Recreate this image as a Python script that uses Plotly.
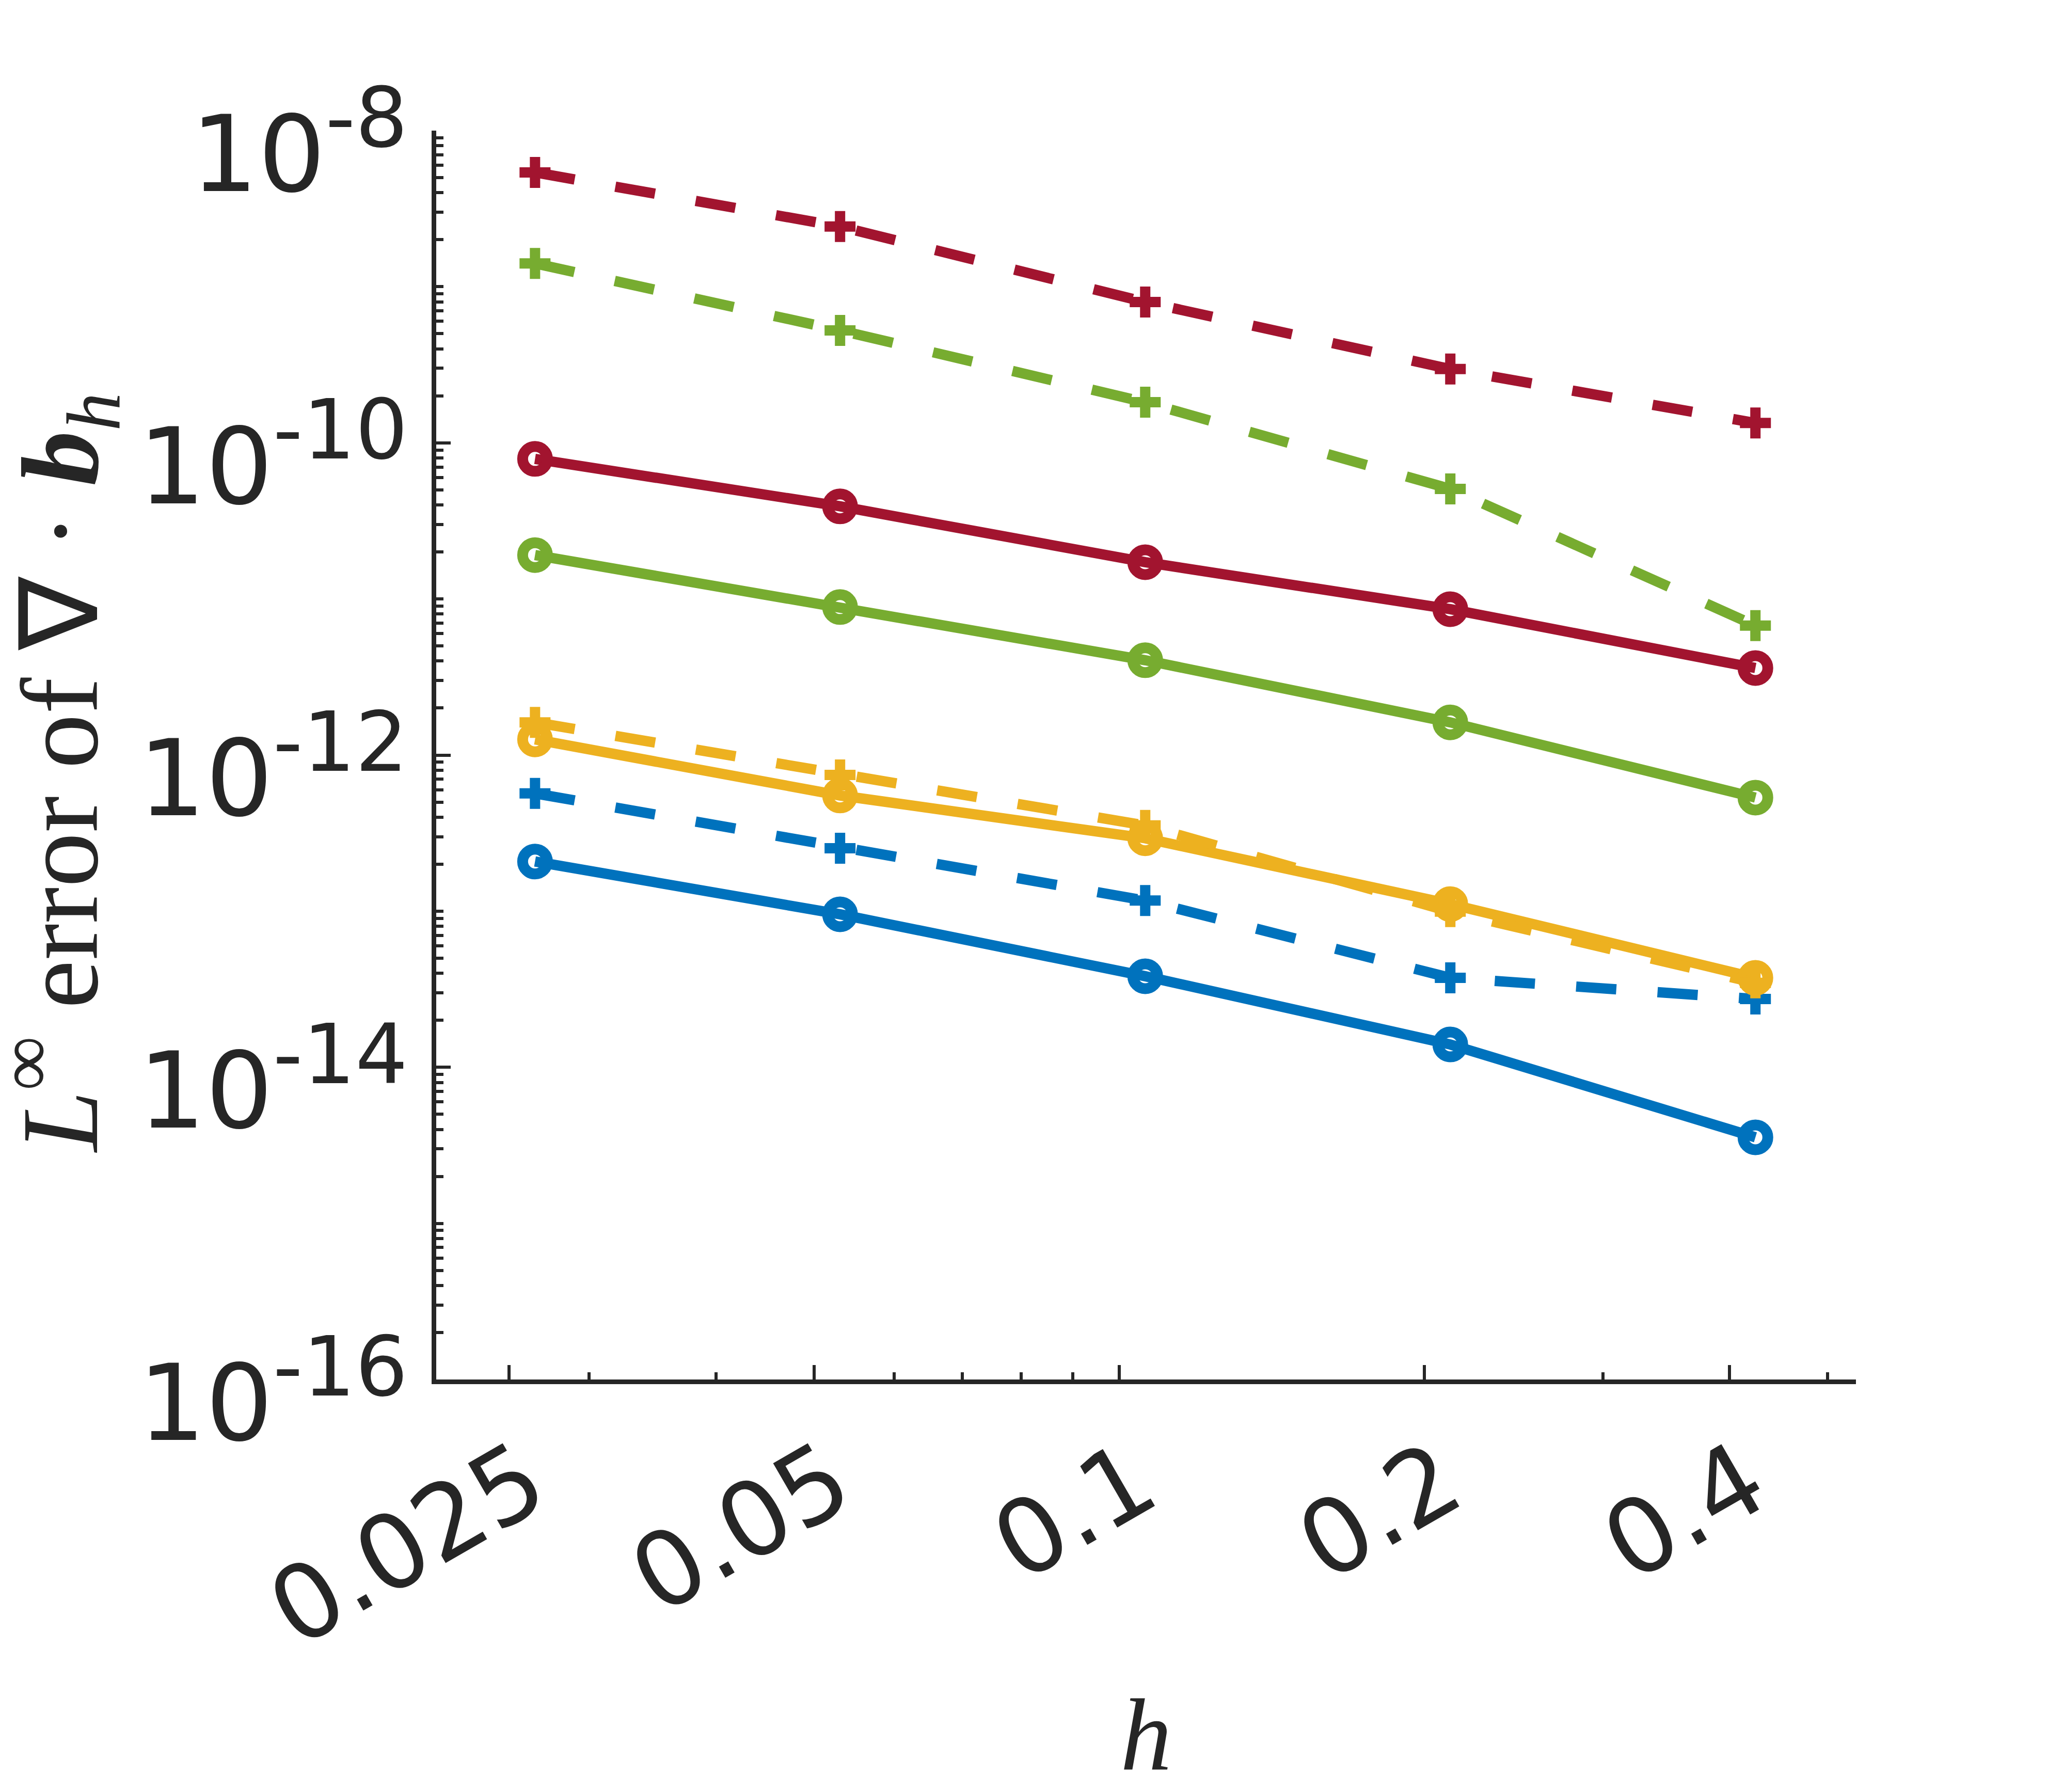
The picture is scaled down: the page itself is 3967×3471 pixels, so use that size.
import plotly.graph_objects as go

# ---- data ----
h = [0.02652, 0.05303, 0.10607, 0.21213, 0.42426]

x_tickvals = [0.025, 0.05, 0.1, 0.2, 0.4]
x_ticktext = ["0.025", "0.05", "0.1", "0.2", "0.4"]
x_minor = [0.03, 0.04, 0.06, 0.07, 0.08, 0.09, 0.3, 0.5]

y_tickvals = [1e-16, 1e-14, 1e-12, 1e-10, 1e-8]
y_exponents = ["-16", "-14", "-12", "-10", "-8"]
y_ticktext = ['10<sup><span style="font-size:160px">%s</span></sup>' % e
              for e in y_exponents]
y_minor = [k * 10.0 ** d for d in range(-16, -8) for k in range(1, 10)
           if not (k == 1 and d % 2 == 0)]

x_title = "<i>h</i>"
y_title = "<i>L</i><sup>∞</sup> error of ∇ · <b><i>b</i></b><sub><i>h</i></sub>"

blue_solid = [2.08e-13, 9.55e-14, 3.83e-14, 1.40e-14, 3.56e-15]
blue_dash = [5.68e-13, 2.53e-13, 1.17e-13, 3.74e-14, 2.74e-14]
yellow_solid = [1.26e-12, 5.51e-13, 2.93e-13, 1.11e-13, 3.74e-14]
yellow_dash = [1.62e-12, 7.46e-13, 3.54e-13, 9.93e-14, 3.47e-14]
green_solid = [1.91e-11, 8.87e-12, 4.05e-12, 1.62e-12, 5.34e-13]
green_dash = [1.41e-9, 5.25e-10, 1.82e-10, 5.07e-11, 6.75e-12]
red_solid = [7.89e-11, 3.92e-11, 1.72e-11, 8.6e-12, 3.61e-12]
red_dash = [5.40e-9, 2.43e-9, 7.98e-10, 2.97e-10, 1.34e-10]

series = [
    ("#0072BD", blue_solid, blue_dash),
    ("#EDB120", yellow_solid, yellow_dash),
    ("#77AC30", green_solid, green_dash),
    ("#A2142F", red_solid, red_dash),
]

AX = "#262626"
fig = go.Figure()
for color, solid, dash in series:
    fig.add_trace(go.Scatter(
        x=h, y=solid, mode="lines+markers",
        line=dict(color=color, width=20),
        marker=dict(symbol="circle-open", size=48, color=color,
                    line=dict(color=color, width=21)),
        showlegend=False))
    fig.add_trace(go.Scatter(
        x=h, y=dash, mode="lines+markers",
        line=dict(color=color, width=20, dash="78px,80px"),
        marker=dict(symbol="cross", size=50, color=color,
                    line=dict(width=0)),
        showlegend=False))

fig.update_layout(
    template="none",
    width=3967, height=3471,
    margin=dict(l=845, r=372, t=253, b=799, pad=0),
    paper_bgcolor="white", plot_bgcolor="white",
    showlegend=False,
    xaxis=dict(
        type="log", range=[-1.67388, -0.27318],
        showline=True, linecolor=AX, linewidth=9, mirror=False,
        showgrid=False, zeroline=False,
        tickmode="array", tickvals=x_tickvals, ticktext=x_ticktext,
        ticks="inside", ticklen=28, tickwidth=6, tickcolor=AX,
        tickangle=-30, tickfont=dict(family="DejaVu Sans", size=200, color=AX),
        ticklabelstandoff=0, ticklabelshift=35,
        minor=dict(tickmode="array", tickvals=x_minor, ticks="inside",
                   ticklen=14, tickwidth=6, tickcolor=AX, showgrid=False),
        title=dict(text=x_title, standoff=85,
                   font=dict(family="Liberation Serif", size=200, color=AX)),
        automargin=False,
    ),
    yaxis=dict(
        type="log", range=[-16, -8],
        showline=True, linecolor=AX, linewidth=9, mirror=False,
        showgrid=False, zeroline=False,
        tickmode="array", tickvals=y_tickvals, ticktext=y_ticktext,
        ticks="inside", ticklen=28, tickwidth=6, tickcolor=AX,
        tickfont=dict(family="DejaVu Sans", size=205, color=AX),
        ticklabelstandoff=5, ticklabelshift=45,
        minor=dict(tickmode="array", tickvals=y_minor, ticks="inside",
                   ticklen=14, tickwidth=6, tickcolor=AX, showgrid=False),
        automargin=False,
    ),
    annotations=[dict(
        text=y_title, textangle=-90, showarrow=False,
        xref="paper", yref="paper", x=0, y=0.5,
        xanchor="center", yanchor="middle", xshift=-730, yshift=-35,
        font=dict(family="Liberation Serif", size=212, color=AX),
    )],
)

fig.write_html("out.html", config={"displayModeBar": False},
               post_script="document.body.style.margin='0';document.body.style.overflow='hidden';")
